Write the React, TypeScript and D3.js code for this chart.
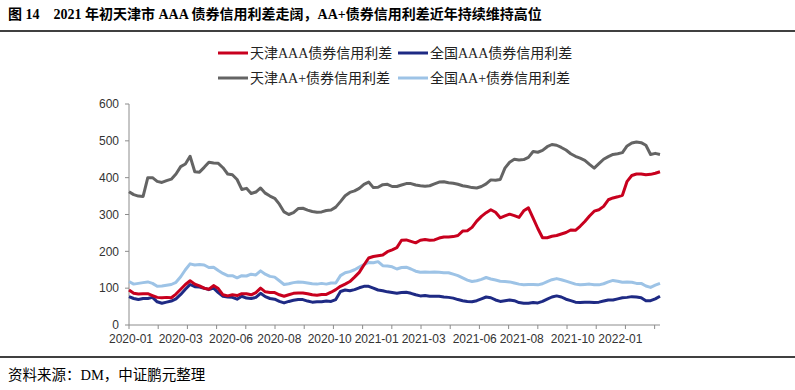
import React from 'react';
import * as d3 from 'd3';

const seriesNames = ['天津AAA债券信用利差', '全国AAA债券信用利差', '天津AA+债券信用利差', '全国AA+债券信用利差'];
const seriesColors = ['#C8001E', '#1E2A84', '#646464', '#9DC3E6'];

// weekly observations, first on 2020-01-03
const firstWeek = new Date(2020, 0, 3);

const tjAAA = [95, 86, 84, 85, 85, 80, 75, 74, 75, 74, 84, 97, 110, 120, 111, 106, 100, 97, 107, 99,
  82, 79, 82, 80, 85, 85, 82, 88, 100, 90, 88, 88, 82, 78, 82, 86, 87, 87, 85, 82,
  81, 83, 83, 89, 96, 105, 111, 118, 130, 143, 163, 182, 186, 188, 190, 199, 204, 210, 230, 231,
  227, 223, 230, 232, 230, 231, 236, 239, 239, 240, 243, 255, 256, 265, 282, 295, 305, 313, 306, 291,
  296, 301, 297, 292, 310, 318, 290, 262, 237, 237, 241, 243, 247, 251, 258, 257, 268, 281, 296, 309,
  313, 322, 340, 345, 348, 352, 390, 406, 410, 410, 408, 409, 412, 416];

const qgAAA = [77, 72, 69, 72, 72, 75, 63, 59, 62, 65, 71, 83, 97, 110, 104, 103, 100, 96, 100, 88,
  78, 76, 75, 70, 78, 73, 72, 75, 86, 77, 72, 70, 64, 60, 64, 67, 69, 69, 65, 62,
  63, 63, 65, 64, 69, 91, 95, 93, 96, 101, 105, 105, 100, 95, 93, 90, 88, 86, 88, 89,
  86, 82, 79, 80, 78, 78, 78, 76, 75, 73, 69, 66, 64, 63, 66, 71, 76, 74, 68, 64,
  66, 68, 66, 61, 59, 59, 61, 60, 64, 70, 76, 79, 76, 70, 66, 62, 61, 62, 62, 61,
  62, 65, 68, 68, 71, 74, 75, 77, 76, 74, 66, 66, 71, 78];

const tjAAplus = [362, 354, 350, 349, 400, 400, 390, 387, 392, 396, 410, 430, 437, 458, 416, 415, 428, 442, 440, 439,
  427, 410, 408, 395, 368, 371, 357, 361, 372, 358, 350, 344, 328, 307, 300, 305, 316, 317, 312, 308,
  306, 307, 311, 312, 320, 335, 351, 360, 364, 371, 382, 388, 373, 374, 381, 382, 376, 376, 380, 384,
  384, 380, 378, 377, 378, 383, 388, 389, 386, 385, 382, 378, 376, 373, 372, 376, 383, 394, 393, 395,
  426, 442, 450, 448, 449, 455, 471, 469, 474, 484, 490, 488, 482, 475, 465, 458, 453, 447, 436, 426,
  438, 450, 457, 463, 465, 468, 486, 494, 497, 495, 488, 463, 466, 463];

const qgAAplus = [118, 111, 113, 115, 117, 113, 105, 106, 108, 110, 116, 131, 150, 166, 163, 164, 163, 156, 157, 148,
  140, 134, 134, 128, 134, 133, 138, 136, 147, 138, 132, 130, 120, 110, 112, 115, 117, 116, 114, 112,
  111, 113, 111, 114, 114, 134, 142, 145, 150, 157, 164, 170, 169, 172, 161, 160, 158, 152, 156, 157,
  152, 146, 143, 144, 143, 144, 143, 142, 142, 138, 134, 128, 122, 118, 120, 124, 129, 125, 122, 119,
  118, 117, 114, 111, 109, 110, 110, 109, 112, 118, 123, 126, 123, 119, 115, 111, 109, 110, 111, 109,
  109, 112, 117, 121, 119, 116, 117, 116, 113, 113, 106, 102, 108, 113];

const yTicks = [0, 100, 200, 300, 400, 500, 600];
// dates of the categories that carry a label on the axis
const labelDates = ['2020-01-06', '2020-03-20', '2020-06-03', '2020-08-14', '2020-10-28', '2021-01-06',
  '2021-03-17', '2021-06-01', '2021-08-10', '2021-10-25', '2022-01-04'];

const W = 795;
const H = 390;
const plot = {left: 129, right: 660, top: 104, bottom: 325};

export default function App() {
  const weeks = tjAAA.map((_, i) => d3.timeDay.offset(firstWeek, 7 * i));
  const x = d3.scaleTime()
    .domain([weeks[0], weeks[weeks.length - 1]])
    .range([plot.left, plot.right]);
  const y = d3.scaleLinear().domain([0, 600]).range([plot.bottom, plot.top]);

  const parse = d3.timeParse('%Y-%m-%d');
  const fmt = d3.timeFormat('%Y-%m');
  const tickMarks = d3.range(19).map(k => d3.timeHour.offset(weeks[0], Math.round(k * 43.5 * 24)));

  const line = d3.line<number>()
    .x((d, i) => x(weeks[i]))
    .y(d => y(d));

  const data = [tjAAA, qgAAA, tjAAplus, qgAAplus];
  const drawOrder = [3, 2, 1, 0];

  const axisColor = '#8C8C8C';
  const sansFont = '"Liberation Sans", Arial, sans-serif';
  const cjkFont = '"Liberation Serif", "Noto Sans CJK SC", serif';

  const legendRows = [53, 78];
  const legendCols = [218, 398];

  return (
    <svg width={W} height={H} style={{position: 'absolute', left: 0, top: 0, background: '#fff'}}>
      <text x={8} y={19} fontFamily={cjkFont} fontWeight="bold" fontSize={14} fill="#000" style={{whiteSpace: 'pre'}}>
        {'图 14    2021 年初天津市 AAA 债券信用利差走阔，AA+债券信用利差近年持续维持高位'}
      </text>
      <line x1={0} x2={W} y1={31} y2={31} stroke="#000" strokeWidth={1.5} />
      <line x1={0} x2={W} y1={357} y2={357} stroke="#000" strokeWidth={1.5} />
      <text x={8} y={380} fontFamily={cjkFont} fontSize={14.5} fill="#000">资料来源：DM，中证鹏元整理</text>

      {seriesNames.map((name, i) => {
        const lx = legendCols[i % 2];
        const ly = legendRows[Math.floor(i / 2)];
        return (
          <g key={name}>
            <line x1={lx} x2={lx + 30} y1={ly} y2={ly} stroke={seriesColors[i]} strokeWidth={3} />
            <text x={lx + 32} y={ly} dy="0.35em" fontFamily={cjkFont} fontSize={14} fill="#222">{name}</text>
          </g>
        );
      })}

      {/* axes */}
      <line x1={plot.left} x2={plot.left} y1={plot.top} y2={plot.bottom} stroke={axisColor} strokeWidth={1} />
      <line x1={plot.left} x2={plot.right} y1={plot.bottom} y2={plot.bottom} stroke={axisColor} strokeWidth={1} />
      {yTicks.map(t => (
        <g key={t}>
          <line x1={plot.left - 4} x2={plot.left} y1={y(t)} y2={y(t)} stroke={axisColor} />
          <text x={plot.left - 10} y={y(t)} dy="0.35em" textAnchor="end" fontFamily={sansFont} fontSize={12} fill="#333">{t}</text>
        </g>
      ))}
      {tickMarks.map((d, k) => (
        <line key={k} x1={x(d)} x2={x(d)} y1={plot.bottom} y2={plot.bottom + 4} stroke={axisColor} />
      ))}
      {labelDates.map(s => {
        const d = parse(s) as Date;
        return (
          <text key={s} x={x(d)} y={343} textAnchor="middle" fontFamily={sansFont} fontSize={12} fill="#333">{fmt(d)}</text>
        );
      })}

      {drawOrder.map(i => (
        <path key={i} d={line(data[i]) || ''} fill="none" stroke={seriesColors[i]} strokeWidth={3} strokeLinejoin="round" />
      ))}
    </svg>
  );
}
